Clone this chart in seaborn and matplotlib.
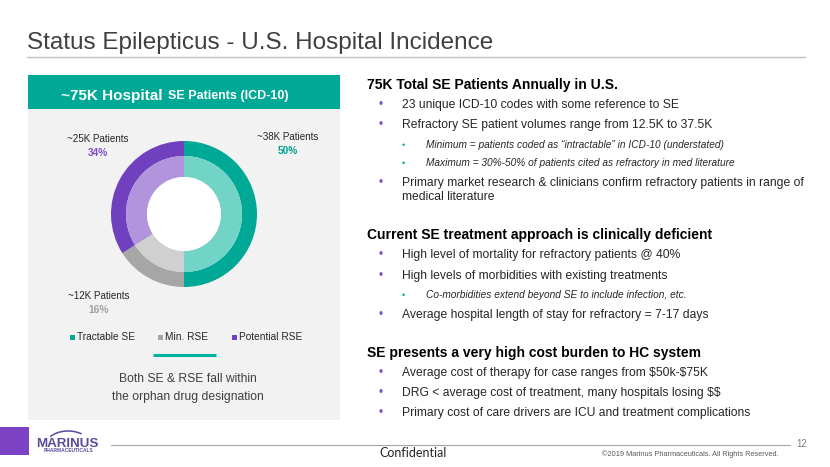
import numpy as np
import matplotlib
matplotlib.use("Agg")
import matplotlib.pyplot as plt
from matplotlib.patches import Rectangle, Circle, Arc
import seaborn as sns

# Chart data
categories = ["Tractable SE", "Min. RSE", "Potential RSE"]
shares = [50, 16, 34]              # percent of hospital SE patients
patients_k = [38, 12, 25]          # thousands of patients
outer_colors = ["#00A896", "#A6A6A6", "#7040BE"]
inner_colors = ["#72D4C6", "#D0D0D0", "#B294DC"]
pct_colors = ["#00A090", "#A0A0A0", "#7D4FC8"]

header_big = "~75K Hospital"
header_small = "SE Patients (ICD-10)"
note_lines = ["Both SE & RSE fall within", "the orphan drug designation"]

title = "Status Epilepticus - U.S. Hospital Incidence"
section_titles = ["75K Total SE Patients Annually in U.S.",
                  "Current SE treatment approach is clinically deficient",
                  "SE presents a very high cost burden to HC system"]
section_items = [
    [(1, "23 unique ICD-10 codes with some reference to SE"),
     (1, "Refractory SE patient volumes range from 12.5K to 37.5K"),
     (2, "Minimum = patients coded as \u201cintractable\u201d in ICD-10 (understated)"),
     (2, "Maximum = 30%-50% of patients cited as refractory in med literature"),
     (1, "Primary market research & clinicians confirm refractory patients in range of\nmedical literature")],
    [(1, "High level of mortality for refractory patients @ 40%"),
     (1, "High levels of morbidities with existing treatments"),
     (2, "Co-morbidities extend beyond SE to include infection, etc."),
     (1, "Average hospital length of stay for refractory = 7-17 days")],
    [(1, "Average cost of therapy for case ranges from $50k-$75K"),
     (1, "DRG < average cost of treatment, many hospitals losing $$"),
     (1, "Primary cost of care drivers are ICU and treatment complications")],
]

sns.set_theme(style="white")
plt.rcParams['font.family'] = ['Liberation Sans', 'DejaVu Sans']
plt.rcParams['text.parse_math'] = False

W, H = 830, 467
fig = plt.figure(figsize=(W / 100, H / 100), dpi=100)
fig.patch.set_facecolor("white")

# background axes in pixel coordinates
bg = fig.add_axes([0, 0, 1, 1])
bg.set_xlim(0, W)
bg.set_ylim(H, 0)
bg.axis("off")

# title + rule
bg.text(27, 43, title, fontsize=17.5, color="#404040", va="center", ha="left")
bg.plot([27, 805], [57, 57], color="#BFBFBF", lw=1)

# left panel
bg.add_patch(Rectangle((28, 75), 312, 345, facecolor="#F2F2F2", edgecolor="none"))
bg.add_patch(Rectangle((28, 75), 312, 34, facecolor="#00A896", edgecolor="none"))
bg.text(163, 96, header_big, fontsize=11, fontweight="bold", color="white", ha="right", va="center")
bg.text(168, 96, header_small, fontsize=9, fontweight="bold", color="white", ha="left", va="center")

# donut labels
label_pos = [(288, 137), (99, 296), (98, 139)]
for (x, y), k, s, c in zip(label_pos, patients_k, shares, pct_colors):
    bg.text(x, y, f"~{k}K Patients", fontsize=7.1, color="#262626", ha="center", va="center")
    bg.text(x, y + 14, f"{s}%", fontsize=7.3, fontweight="bold", color=c, ha="center", va="center")

# legend
legend_x = [72, 160, 234]
for x, name, c in zip(legend_x, categories, outer_colors):
    bg.add_patch(Rectangle((x - 2.5, 334.5), 5, 5, facecolor=c, edgecolor="none"))
    bg.text(x + 5, 337, name, fontsize=7.3, color="#262626", ha="left", va="center")

bg.plot([153, 216], [355, 355], color="#00B4A0", lw=2.2, solid_capstyle="butt")
for i, line in enumerate(note_lines):
    bg.text(188, 379 + i * 18, line, fontsize=8.7, color="#404040", ha="center", va="center")

# right column text
head_y = [85, 235, 353]
item_y = [[105, 125, 145, 163, 183], [255, 276, 295, 315], [373, 393, 413]]
for head, items, hy, ys in zip(section_titles, section_items, head_y, item_y):
    bg.text(367, hy, head, fontsize=10, fontweight="bold", color="black", ha="left", va="center")
    for (lvl, txt), y in zip(items, ys):
        if lvl == 1:
            bg.text(381, y, "\u2022", fontsize=8.5, color="#7B4FC0", ha="center", va="center")
            for j, line in enumerate(txt.split("\n")):
                bg.text(402, y + j * 14.5, line, fontsize=8.7, color="#262626", ha="left", va="center")
        else:
            bg.text(403, y, "\u2022", fontsize=6.5, color="#00A896", ha="center", va="center")
            bg.text(426, y, txt, fontsize=7.3, style="italic", color="#262626", ha="left", va="center")

# footer
bg.add_patch(Rectangle((0, 427), 29, 28, facecolor="#7B43C4", edgecolor="none"))
bg.text(67.5, 444, "MARINUS", fontsize=9.6, fontweight="bold", color="#5B4B9E", ha="center", va="center")
bg.text(68, 451, "PHARMACEUTICALS", fontsize=3.5, fontweight="bold", color="#5B4B9E", ha="center", va="center")
bg.add_patch(Arc((68, 445), 44, 28, theta1=205, theta2=321, color="#5B4B9E", lw=1.1))
bg.plot([111, 790], [445, 445], color="#A6A6A6", lw=0.8)
bg.text(413, 453, "Confidential", fontsize=9, family=["Lato", "DejaVu Sans"], color="#262626", ha="center", va="center")
bg.text(778, 454, "\u00a92019 Marinus Pharmaceuticals. All Rights Reserved.", fontsize=5.3, color="#595959", ha="right", va="center")
bg.text(802, 444, "12", fontsize=7, color="#808080", ha="center", va="center")

# donut chart
cx, cy, r = 184, 214, 73
ax = fig.add_axes([(cx - r) / W, 1 - (cy + r) / H, 2 * r / W, 2 * r / H])
ax.pie(shares, radius=1, startangle=90, counterclock=False, colors=outer_colors,
       wedgeprops=dict(width=15 / r, edgecolor="none"))
ax.pie(shares, radius=58 / r, startangle=90, counterclock=False, colors=inner_colors,
       wedgeprops=dict(width=21 / r, edgecolor="none"))
ax.add_patch(Circle((0, 0), 37 / r, facecolor="white", edgecolor="none"))
ax.set_xlim(-1, 1)
ax.set_ylim(-1, 1)
ax.axis("off")

plt.savefig("out.png", dpi=100)
